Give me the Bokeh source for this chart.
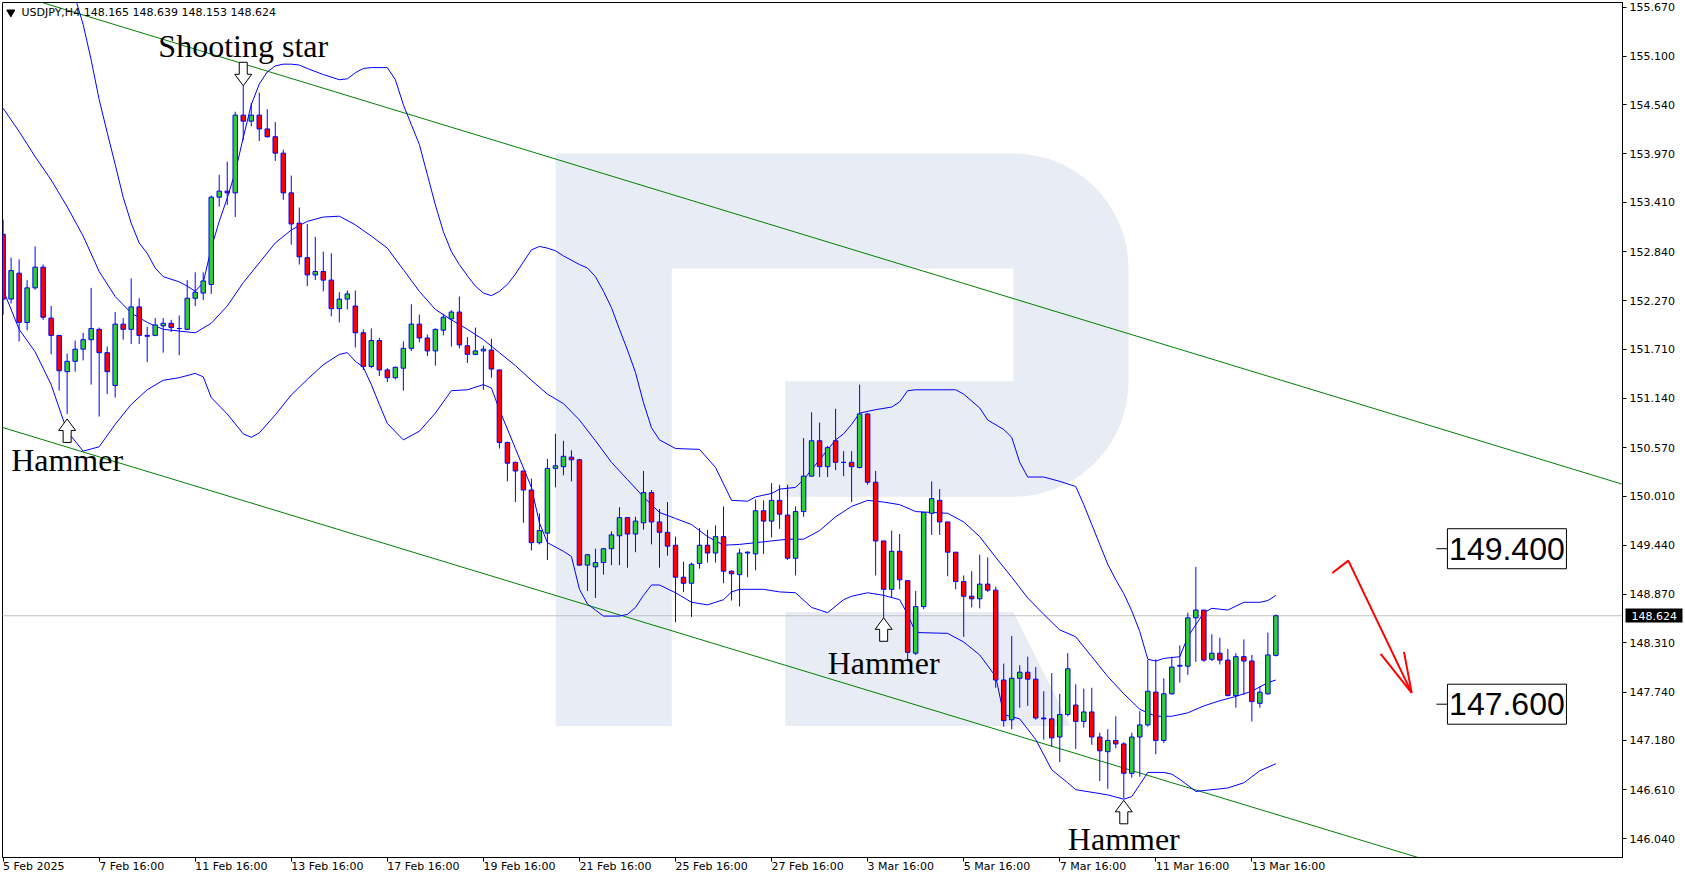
import numpy as np
from bokeh.plotting import figure
from bokeh.models import Range1d, LinearAxis, FixedTicker, Label, NumeralTickFormatter
from bokeh.embed import file_html
from bokeh.resources import INLINE

# ---------------- data ----------------
symbol = "USDJPY,H4"

opens = [
    153.04, 152.29, 152.59, 152.02, 152.42, 152.66, 152.07, 151.87, 151.45, 151.57,
    151.71, 151.82, 151.94, 151.67, 151.29, 152.00, 151.94, 152.20, 151.87, 151.87,
    151.98, 152.01, 151.95, 151.94, 152.30, 152.36, 152.46, 153.47, 153.54, 153.52,
    154.42, 154.35, 154.42, 154.26, 154.17, 153.98, 153.52, 153.17, 152.77, 152.57,
    152.61, 152.51, 152.18, 152.29, 152.21, 151.90, 151.51, 151.81, 151.47, 151.38,
    151.49, 151.72, 152.00, 151.84, 151.69, 151.93, 152.06, 152.14, 151.75, 151.65,
    151.69, 151.70, 151.47, 150.63, 150.40, 150.30, 150.08, 149.47, 149.58, 150.33,
    150.35, 150.46, 150.43, 149.21, 149.19, 149.24, 149.40, 149.55, 149.76, 149.57,
    149.70, 150.05, 149.71, 149.59, 149.44, 149.07, 149.00, 149.23, 149.44, 149.35,
    149.54, 149.14, 149.10, 149.35, 149.34, 149.84, 149.72, 149.96, 149.79, 149.29,
    149.83, 150.24, 150.65, 150.35, 150.65, 150.40, 150.40, 150.34, 150.96, 150.17,
    149.49, 148.93, 149.37, 149.03, 148.19, 148.73, 149.81, 149.96, 149.71, 149.36,
    149.02, 148.85, 148.82, 148.99, 148.92, 147.88, 147.42, 147.90, 147.97, 147.89,
    147.44, 147.43, 147.22, 147.48, 147.59, 147.40, 147.51, 147.22, 147.05, 147.18,
    147.14, 146.80, 147.22, 147.36, 147.74, 147.18, 147.72, 148.04, 148.04, 148.60,
    148.69, 148.12, 148.19, 148.11, 147.70, 148.15, 148.10, 147.61, 147.72, 148.165,
]
highs = [
    153.21, 152.77, 152.75, 152.51, 152.90, 152.69, 152.21, 151.87, 151.66, 151.81,
    151.90, 152.42, 151.96, 151.74, 152.14, 152.07, 152.53, 152.30, 151.97, 152.07,
    152.07, 152.05, 152.10, 152.51, 152.60, 152.60, 153.49, 153.73, 153.88, 154.46,
    154.76, 154.56, 154.68, 154.49, 154.34, 154.02, 153.72, 153.35, 153.16, 153.01,
    152.84, 152.82, 152.37, 152.39, 152.39, 151.94, 151.95, 151.84, 151.49, 151.51,
    151.80, 152.23, 152.11, 151.88, 151.95, 152.12, 152.16, 152.32, 151.85, 151.96,
    151.75, 151.83, 151.47, 150.64, 150.41, 150.30, 150.21, 149.81, 150.44, 150.73,
    150.65, 150.54, 150.44, 149.34, 149.40, 149.40, 149.60, 149.88, 149.76, 149.77,
    150.30, 150.08, 149.86, 149.94, 149.54, 149.25, 149.24, 149.64, 149.62, 149.67,
    149.89, 149.15, 149.40, 149.37, 149.97, 149.96, 150.16, 150.14, 150.14, 149.89,
    150.68, 150.98, 150.86, 150.59, 151.02, 150.53, 150.53, 151.30, 150.97, 150.30,
    149.49, 149.61, 149.57, 149.03, 148.91, 149.82, 150.18, 150.09, 149.71, 149.36,
    149.09, 149.14, 149.33, 149.30, 148.96, 148.07, 148.39, 148.05, 148.15, 148.03,
    147.75, 147.96, 147.72, 148.19, 147.83, 147.78, 147.79, 147.27, 147.31, 147.46,
    147.16, 147.27, 147.52, 148.11, 148.12, 147.90, 148.15, 148.28, 148.66, 149.19,
    148.69, 148.41, 148.37, 148.24, 148.19, 148.35, 148.17, 147.81, 148.43, 148.639,
]
lows = [
    152.11, 152.24, 151.80, 151.93, 152.40, 152.05, 151.65, 151.23, 150.96, 151.45,
    151.58, 151.30, 150.93, 151.19, 151.15, 151.82, 151.77, 151.77, 151.56, 151.86,
    151.67, 151.91, 151.64, 151.93, 152.21, 152.28, 152.35, 153.36, 153.38, 153.24,
    154.13, 154.29, 154.12, 154.16, 153.89, 153.44, 152.92, 152.69, 152.44, 152.51,
    152.38, 152.09, 152.02, 152.17, 151.73, 151.47, 151.49, 151.40, 151.33, 151.36,
    151.23, 151.69, 151.79, 151.63, 151.52, 151.87, 151.74, 151.72, 151.55, 151.64,
    151.24, 151.38, 150.56, 150.18, 149.94, 149.70, 149.38, 149.45, 149.27, 150.11,
    150.25, 150.18, 149.20, 148.91, 148.83, 149.10, 149.21, 149.21, 149.18, 149.36,
    149.62, 149.45, 149.18, 149.32, 148.55, 148.90, 148.61, 149.17, 149.24, 149.24,
    149.00, 148.80, 148.73, 149.07, 149.15, 149.34, 149.53, 149.63, 149.27, 149.09,
    149.77, 150.24, 150.23, 150.23, 150.31, 150.24, 149.94, 150.33, 150.14, 149.09,
    148.60, 148.83, 148.93, 148.12, 148.17, 148.70, 149.56, 149.56, 149.08, 148.93,
    148.38, 148.72, 148.71, 148.90, 147.79, 147.34, 147.31, 147.56, 147.58, 147.42,
    147.19, 147.11, 146.93, 147.46, 147.08, 147.33, 147.13, 146.71, 146.62, 147.09,
    146.51, 146.75, 146.76, 147.34, 147.02, 147.15, 147.71, 147.85, 147.94, 148.09,
    148.09, 148.10, 148.06, 147.69, 147.56, 147.71, 147.40, 147.56, 147.71, 148.153,
]
closes = [
    152.29, 152.62, 152.02, 152.42, 152.66, 152.08, 151.87, 151.46, 151.57, 151.71,
    151.82, 151.95, 151.67, 151.45, 152.00, 151.94, 152.20, 151.87, 151.86, 151.99,
    152.01, 151.96, 151.95, 152.30, 152.37, 152.50, 153.47, 153.54, 153.52, 154.42,
    154.35, 154.42, 154.26, 154.17, 153.98, 153.52, 153.16, 152.78, 152.57, 152.61,
    152.51, 152.18, 152.29, 152.35, 151.90, 151.51, 151.81, 151.47, 151.38, 151.50,
    151.72, 152.00, 151.84, 151.69, 151.94, 152.08, 152.14, 151.76, 151.65, 151.69,
    151.71, 151.48, 150.63, 150.39, 150.30, 150.08, 149.47, 149.61, 150.33, 150.36,
    150.47, 150.43, 149.21, 149.33, 149.24, 149.40, 149.56, 149.76, 149.57, 149.72,
    150.05, 149.71, 149.59, 149.43, 149.07, 149.00, 149.22, 149.44, 149.35, 149.54,
    149.14, 149.11, 149.35, 149.36, 149.84, 149.72, 149.96, 149.80, 149.29, 149.83,
    150.24, 150.65, 150.35, 150.57, 150.40, 150.40, 150.35, 150.96, 150.17, 149.49,
    148.93, 149.37, 149.04, 148.20, 148.73, 149.82, 149.98, 149.71, 149.36, 149.02,
    148.85, 148.82, 148.99, 148.92, 147.88, 147.41, 147.90, 147.97, 147.89, 147.44,
    147.43, 147.21, 147.48, 148.01, 147.40, 147.51, 147.22, 147.06, 147.18, 147.14,
    146.80, 147.22, 147.36, 147.75, 147.18, 147.72, 148.03, 148.05, 148.60, 148.69,
    148.11, 148.19, 148.11, 147.70, 148.15, 148.10, 147.63, 147.74, 148.17, 148.624,
]

# Bollinger bands (bar index, price)
bb_upper_x = [0, 4, 8, 9, 10, 11, 12, 13, 14, 15, 16, 17, 18, 19, 20,
              22, 23, 24, 25, 26, 27, 28, 29, 30, 31, 32, 33, 34, 35, 36, 37, 38,
              40, 42, 43, 44, 45, 46, 48, 49, 50,
              51, 52, 53, 54, 55, 56, 57, 58, 59, 60, 61, 62, 63, 64, 65, 66, 67, 68, 69, 70,
              72, 73, 74, 75, 76, 77, 78, 79, 80, 81, 82,
              84, 87, 89, 91, 93, 94, 96, 97, 99, 100,
              102, 104, 105, 106, 107, 109, 111, 112, 113, 114,
              119, 120, 122, 123, 125, 126, 127, 128, 130, 132, 134,
              135, 136, 137, 138, 139, 140, 141, 142, 143, 144, 145,
              147, 148, 150, 151, 153, 155, 157, 158, 159]
bb_upper_y = [156.62, 156.22, 155.93, 155.78, 155.47, 155.06, 154.60, 154.22, 153.85, 153.47, 153.17, 152.94, 152.82, 152.65, 152.55,
              152.49, 152.44, 152.38, 152.48, 152.88, 153.19, 153.46, 153.76, 154.16, 154.54, 154.78, 154.92, 154.99, 155.01, 155.01, 155.00, 154.96,
              154.89, 154.83, 154.84, 154.91, 154.96, 154.97, 154.97, 154.83, 154.54,
              154.31, 154.08, 153.73, 153.38, 153.07, 152.84, 152.69, 152.56, 152.44, 152.36, 152.33, 152.38, 152.46, 152.58, 152.72, 152.86, 152.90, 152.88, 152.85, 152.79,
              152.69, 152.65, 152.55, 152.38, 152.19, 151.94, 151.70, 151.44, 151.09, 150.80, 150.66,
              150.56, 150.55, 150.34, 149.96, 149.95, 150.00, 150.04, 150.09, 150.11, 150.20,
              150.43, 150.66, 150.73, 150.84, 150.97, 151.01, 151.04, 151.10, 151.23, 151.24,
              151.24, 151.19, 151.03, 150.89, 150.78, 150.69, 150.40, 150.23, 150.23, 150.18, 150.12,
              149.91, 149.68, 149.45, 149.22, 149.04, 148.88, 148.68, 148.44, 148.12, 148.10, 148.13,
              148.15, 148.38, 148.66, 148.71, 148.69, 148.78, 148.78, 148.80, 148.86]

bb_mid_x = list(range(0, 160, 2)) + [159]
bb_mid_y = [154.50, 154.23, 153.94, 153.67, 153.36, 153.02, 152.61, 152.32, 152.13, 152.02,
            151.94, 151.92, 151.90, 152.01, 152.21, 152.48, 152.71, 152.94, 153.09, 153.19,
            153.24, 153.25, 153.15, 153.02, 152.88, 152.63, 152.38, 152.17, 152.05, 151.94,
            151.82, 151.67, 151.52, 151.35, 151.19, 151.08, 150.89, 150.65, 150.40, 150.20,
            150.00, 149.82, 149.75, 149.68, 149.54, 149.44, 149.45, 149.47, 149.49, 149.51,
            149.51, 149.61, 149.77, 149.89, 149.96, 149.94, 149.91, 149.83, 149.82, 149.81,
            149.71, 149.54, 149.30, 149.07, 148.83, 148.64, 148.46, 148.38, 148.15, 147.92,
            147.72, 147.54, 147.46, 147.46, 147.50, 147.58, 147.64, 147.69, 147.75, 147.85,
            147.88]

bb_lower_x = [0, 2, 4, 6, 8, 10, 12, 14, 16, 18,
              20, 22, 24, 25, 26, 28, 30, 31, 32, 34,
              36, 38, 40, 42, 43, 44, 45, 46, 47, 48,
              50, 52, 54, 56, 58, 60, 61, 62, 64, 66,
              67, 68, 70, 71, 72, 73, 74, 75, 77, 78,
              79, 80, 81, 82, 84, 86, 88, 90, 91, 92,
              95, 97, 99, 101, 103, 105, 106, 108, 110, 112,
              113, 114, 118, 120, 122, 124, 125, 127, 129, 131,
              133, 134, 138, 140, 141, 142, 143, 145, 146, 147,
              149, 151, 153, 155, 157, 159]
bb_lower_y = [152.40, 151.94, 151.68, 151.30, 150.76, 150.53, 150.58, 150.84, 151.07, 151.24,
              151.35, 151.38, 151.43, 151.39, 151.15, 150.96, 150.73, 150.69, 150.74, 150.95,
              151.18, 151.36, 151.53, 151.65, 151.67, 151.57, 151.50, 151.30, 151.07, 150.85,
              150.66, 150.76, 150.97, 151.23, 151.24, 151.30, 151.26, 151.01, 150.56, 150.11,
              149.70, 149.47, 149.37, 149.31, 148.93, 148.76, 148.69, 148.62, 148.62, 148.64,
              148.72, 148.86, 148.98, 148.98, 148.89, 148.78, 148.75, 148.81, 148.90, 148.93,
              148.93, 148.90, 148.89, 148.72, 148.66, 148.81, 148.85, 148.89, 148.86, 148.81,
              148.64, 148.43, 148.42, 148.32, 148.17, 147.92, 147.48, 147.43, 147.19, 146.84,
              146.69, 146.61, 146.55, 146.50, 146.53, 146.67, 146.81, 146.81, 146.79, 146.73,
              146.59, 146.61, 146.63, 146.69, 146.83, 146.91]

# descending channel (bar index, price)
channel_x = [-1, 205]
channel_upper = [155.89, 150.07]
channel_lower = [150.83, 145.03]

# target levels
levels = [149.400, 147.600]

# axis ticks
x_tick_bars = [0, 12, 24, 36, 48, 60, 72, 84, 96, 108, 120, 132, 144, 156]
x_tick_labels = ["5 Feb 2025", "7 Feb 16:00", "11 Feb 16:00", "13 Feb 16:00", "17 Feb 16:00",
                 "19 Feb 16:00", "21 Feb 16:00", "25 Feb 16:00", "27 Feb 16:00", "3 Mar 16:00",
                 "5 Mar 16:00", "7 Mar 16:00", "11 Mar 16:00", "13 Mar 16:00"]
y_ticks = [155.670, 155.100, 154.540, 153.970, 153.410, 152.840, 152.270, 151.710, 151.140,
           150.570, 150.010, 149.440, 148.870, 148.310, 147.740, 147.180, 146.610, 146.040]

# candle patterns: (text, bar, arrow direction, gap px, text offset px)
patterns = [("Shooting star", 30, "down", 0, 40),
            ("Hammer", 8, "up", 5, 46),
            ("Hammer", 110, "up", 0, 45),
            ("Hammer", 140, "up", 2, 41)]

# ---------------- layout ----------------
W, H = 1685, 882
BL, BR, BT, BB = 2, 63, 2, 24
XR = (-0.075, 202.3)
YR = (145.825, 155.724)
FW = W - BL - BR
FH = H - BT - BB
ppx = FW / (XR[1] - XR[0])
ppy = FH / (YR[1] - YR[0])


def ref(xp, yp):
    """reference-screenshot pixel -> data coordinates (for decorations only)"""
    return (xp - 3.3) / 8.0, 155.755 - yp * 0.011574


p = figure(width=W, height=H, x_range=Range1d(*XR), y_range=Range1d(*YR),
           output_backend="svg", toolbar_location=None,
           x_axis_location=None, y_axis_location=None,
           min_border_left=BL, min_border_right=BR, min_border_top=BT, min_border_bottom=BB,
           background_fill_color="white", border_fill_color="white")
p.outline_line_color = "black"
p.outline_line_width = 1
p.grid.visible = False

# price axis (right)
yax = LinearAxis(ticker=FixedTicker(ticks=y_ticks, minor_ticks=[]),
                 formatter=NumeralTickFormatter(format="0.000"),
                 major_tick_out=4, major_tick_in=0, minor_tick_out=0, minor_tick_in=0,
                 major_label_standoff=3, major_label_text_font="DejaVu Sans",
                 major_label_text_font_size="11px", major_label_text_color="black",
                 axis_line_color="black", major_tick_line_color="black")
p.add_layout(yax, "right")

# current-price tag drawn as a second axis: a thick tick reaching back over the price column
cp = closes[-1]
tag = LinearAxis(ticker=FixedTicker(ticks=[cp], minor_ticks=[]),
                 formatter=NumeralTickFormatter(format="0.000"),
                 major_tick_in=52, major_tick_out=5, major_tick_line_width=14,
                 major_tick_line_color="black", minor_tick_in=0, minor_tick_out=0,
                 axis_line_color=None, major_label_standoff=-51,
                 major_label_text_font="DejaVu Sans", major_label_text_font_size="11px",
                 major_label_text_color="white")
p.add_layout(tag, "right")

# time axis (below), labels left-aligned at their ticks
xax = LinearAxis(ticker=FixedTicker(ticks=x_tick_bars, minor_ticks=[]),
                 major_label_overrides={t: lab for t, lab in zip(x_tick_bars, x_tick_labels)},
                 major_label_orientation=-0.0001,
                 major_tick_out=4, major_tick_in=0, minor_tick_out=0, minor_tick_in=0,
                 major_label_standoff=5, major_label_text_font="DejaVu Sans",
                 major_label_text_font_size="11px", major_label_text_color="black",
                 axis_line_color="black", major_tick_line_color="black")
p.add_layout(xax, "below")

# ---------------- watermark "R" ----------------
def arc(cx, cy, r, a0, a1, n=18):
    a = np.radians(np.linspace(a0, a1, n))
    return list(zip(cx + r * np.cos(a), cy + r * np.sin(a)))

wm = ([(555.6, 153.7), (1013, 153.7)] + arc(1013, 268.7, 115, -90, 0) + [(1128, 382)]
      + arc(1013, 382, 115, 0, 90)
      + [(785, 497), (785, 381.5), (1013, 381.5), (1013, 268.7), (671.6, 268.7),
         (671.6, 726.4), (555.6, 726.4)])
leg = [(785, 612.5), (1013, 612.5), (1070, 726.4), (785, 726.4)]
for poly in (wm, leg):
    pts = [ref(a, b) for a, b in poly]
    p.patch([q[0] for q in pts], [q[1] for q in pts], fill_color="#e8ecf4", line_color=None)

# current price line
p.line([XR[0] - 2, XR[1] + 2], [cp, cp], line_color="#c0c0c0", line_width=1)

# channel
p.line(channel_x, channel_upper, line_color="#008000", line_width=1)
p.line(channel_x, channel_lower, line_color="#008000", line_width=1)

# Bollinger bands
for bx, by in ((bb_upper_x, bb_upper_y), (bb_mid_x, bb_mid_y), (bb_lower_x, bb_lower_y)):
    p.line(bx, by, line_color="#0000ff", line_width=1)

# candles
idx = list(range(len(closes)))
top = [max(o, c) for o, c in zip(opens, closes)]
bot = [min(o, c) for o, c in zip(opens, closes)]
cols = ["#32cd32" if c >= o else "#ff0000" for o, c in zip(opens, closes)]
p.segment(x0=idx, y0=lows, x1=idx, y1=highs, line_color="#0000ff", line_width=1)
p.vbar(x=idx, width=0.56, top=top, bottom=bot, fill_color=cols, line_color="#0000ff", line_width=1)

# pattern arrows + texts
ARROW = [(0, 0), (8.5, 11.5), (4, 11.5), (4, 23.5), (-4, 23.5), (-4, 11.5), (-8.5, 11.5)]
for text, bar, direction, gap, toff in patterns:
    if direction == "down":
        tip = highs[bar] + gap / ppy
        ys = [tip + dy / ppy for dx, dy in ARROW]
        yo = toff
        anchor = highs[bar]
    else:
        tip = lows[bar] - gap / ppy
        ys = [tip - dy / ppy for dx, dy in ARROW]
        yo = -toff
        anchor = lows[bar]
    xs = [bar + dx / ppx for dx, dy in ARROW]
    p.patch(xs, ys, fill_color="white", line_color="black", line_width=1)
    p.add_layout(Label(x=bar, y=anchor, y_offset=yo, text=text, text_font="Liberation Serif",
                       text_font_size="32px", text_color="black", text_align="center",
                       text_baseline="alphabetic"))

# red forecast arrow
rp = [ref(1331.7, 573.3), ref(1347.7, 561.0), ref(1411.0, 693.3)]
p.line([q[0] for q in rp], [q[1] for q in rp], line_color="#ff0000", line_width=2)
h1, h2 = ref(1380.0, 654.3), ref(1403.3, 652.3)
p.segment(x0=[h1[0], h2[0]], y0=[h1[1], h2[1]], x1=[rp[2][0]] * 2, y1=[rp[2][1]] * 2,
          line_color="#ff0000", line_width=2)

# level boxes
box_cx = ref(1506.2, 0)[0]
bw, bh = 119, 40
p.rect(x=[box_cx] * len(levels), y=levels, width=bw, height=bh, width_units="screen",
       height_units="screen", fill_color="white", line_color="black", line_width=1)
p.segment(x0=[box_cx - (bw / 2 + 11) / ppx] * len(levels), y0=levels,
          x1=[box_cx - (bw / 2) / ppx] * len(levels), y1=levels, line_color="black", line_width=1)
for lv in levels:
    p.add_layout(Label(x=box_cx, y=lv, text=f"{lv:.3f}", text_font="Liberation Sans",
                       text_font_size="32px", text_color="black", text_align="center",
                       text_baseline="middle"))

# header
tx, ty = ref(11, 12.5)
p.scatter([tx], [ty], marker="inverted_triangle", size=8, fill_color="black", line_color="black")
hx, hy = ref(21.7, 12.8)
p.add_layout(Label(x=hx, y=hy, text=f"{symbol}  {opens[-1]:.3f} {highs[-1]:.3f} {lows[-1]:.3f} {closes[-1]:.3f}",
                   text_font="DejaVu Sans", text_font_size="11px", text_color="black",
                   text_baseline="middle", text_align="left"))

open("out.html", "w").write(file_html(p, INLINE))
